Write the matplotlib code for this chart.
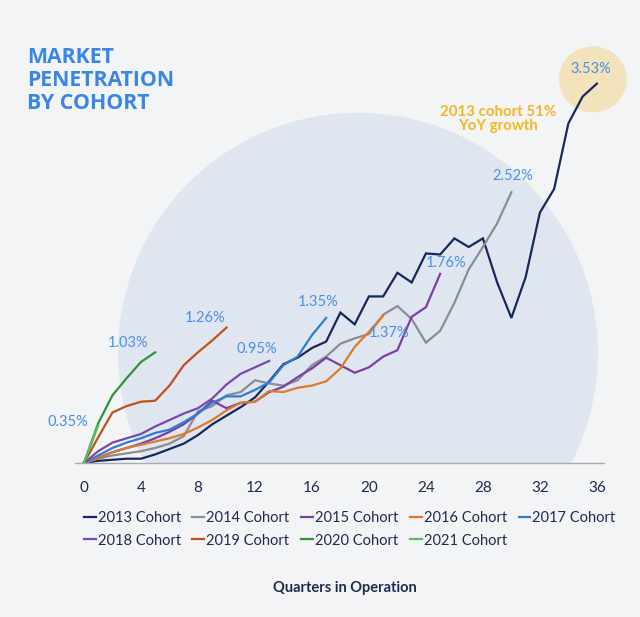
import matplotlib
matplotlib.use("Agg")
import matplotlib.pyplot as plt
from matplotlib.patches import Ellipse

# market penetration (%) by quarter in operation, one list per cohort
c2013 = [0, 0.02, 0.03, 0.04, 0.04, 0.08, 0.13, 0.18, 0.26, 0.36, 0.44, 0.52, 0.61,
         0.76, 0.92, 0.98, 1.07, 1.13, 1.40, 1.29, 1.55, 1.55, 1.77, 1.68, 1.95,
         1.94, 2.09, 2.01, 2.09, 1.68, 1.35, 1.73, 2.33, 2.55, 3.16, 3.41, 3.53]
c2014 = [0, 0.04, 0.07, 0.09, 0.11, 0.14, 0.18, 0.25, 0.48, 0.53, 0.63, 0.66, 0.77,
         0.74, 0.72, 0.77, 0.91, 0.99, 1.11, 1.16, 1.20, 1.38, 1.46, 1.34, 1.12,
         1.23, 1.49, 1.80, 2.01, 2.23, 2.52]
c2015 = [0, 0.05, 0.10, 0.14, 0.18, 0.23, 0.29, 0.36, 0.46, 0.58, 0.51, 0.56, 0.57,
         0.66, 0.71, 0.80, 0.88, 0.98, 0.91, 0.84, 0.89, 0.99, 1.05, 1.36, 1.45, 1.76]
c2016 = [0, 0.05, 0.10, 0.14, 0.17, 0.20, 0.23, 0.27, 0.33, 0.40, 0.49, 0.56, 0.57,
         0.67, 0.66, 0.70, 0.72, 0.76, 0.88, 1.08, 1.22, 1.37]
c2017 = [0, 0.07, 0.14, 0.19, 0.23, 0.28, 0.31, 0.38, 0.46, 0.56, 0.62, 0.62, 0.68,
         0.75, 0.91, 0.99, 1.19, 1.35]
c2018 = [0, 0.11, 0.19, 0.23, 0.27, 0.34, 0.40, 0.46, 0.51, 0.60, 0.73, 0.83, 0.89, 0.95]
c2019 = [0, 0.24, 0.47, 0.53, 0.57, 0.58, 0.72, 0.91, 1.03, 1.14, 1.26]
c2020 = [0, 0.37, 0.63, 0.79, 0.94, 1.03]
c2021 = [0, 0.35]

names = ["2013 Cohort", "2014 Cohort", "2015 Cohort", "2016 Cohort", "2017 Cohort",
         "2018 Cohort", "2019 Cohort", "2020 Cohort", "2021 Cohort"]
series = [c2013, c2014, c2015, c2016, c2017, c2018, c2019, c2020, c2021]
colors = ["#16285e", "#8a8d91", "#7a3fa8", "#e07a28", "#2f7dd1",
          "#7b46b3", "#c1501e", "#2d9438", "#5dbb5f"]
end_labels = ["3.53%", "2.52%", "1.76%", "1.37%", "1.35%", "0.95%", "1.26%", "1.03%", "0.35%"]
# label offsets from each line's last point, pixels
label_off = [(-6, 15), (1, 16), (6, 11), (6, -17), (-8, 16), (-12, 12), (-21, 10), (-27, 9), (-30, 3)]

xticks = list(range(0, 37, 4))

bg = "#f3f4f5"
navy_txt = "#1e2b4d"
plt.rcParams["font.family"] = ["Lato", "DejaVu Sans"]

fig = plt.figure(figsize=(6.4, 6.17), dpi=100, facecolor=bg)
ax = fig.add_axes([75 / 640, 154 / 617, 529 / 640, 403 / 617])
ax.set_facecolor("none")
ax.set_xlim(-0.63, 36.5)
ax.set_ylim(0, 3.75)

# big pale circle behind the lines (clipped at the axis)
ax.add_patch(Ellipse((19.23, 1.024), 2 * 240 / 14.25, 2 * 240 / 107.4,
                     facecolor="#dfe6f0", edgecolor="none", zorder=0))
# highlight bubble at the 2013 end point
ax.add_patch(Ellipse((35.72, 3.57), 2 * 34 / 14.25, 2 * 33 / 107.4,
                     facecolor="#f3e3bd", edgecolor="none", zorder=0, clip_on=False))

for vals, name, col in zip(series, names, colors):
    ax.plot(range(len(vals)), vals, color=col, lw=1.6, label=name, solid_joinstyle="miter")

for vals, txt, off in zip(series, end_labels, label_off):
    ax.annotate(txt, xy=(len(vals) - 1, vals[-1]), xytext=off, textcoords="offset pixels",
                ha="center", va="center", color="#4a8fe3", fontsize=10.5, annotation_clip=False)

ax.text(29.05, 3.20, "2013 cohort 51%\nYoY growth", ha="center", va="center",
        color="#f4b621", fontsize=10.8, fontweight="bold", linespacing=1.0)

for s in ["top", "left", "right"]:
    ax.spines[s].set_visible(False)
ax.spines["bottom"].set_color("#a6a9ad")
ax.spines["bottom"].set_linewidth(1.0)
ax.set_yticks([])
ax.set_xticks(xticks)
ax.tick_params(axis="x", length=0, pad=13, labelsize=11, labelcolor=navy_txt)

# legend fills column by column, so reorder to read row by row
handles, labels = ax.get_legend_handles_labels()
order = [0, 5, 1, 6, 2, 7, 3, 8, 4]
leg = ax.legend([handles[i] for i in order], [labels[i] for i in order],
                loc="upper left", bbox_to_anchor=(78 / 640, 112 / 617),
                bbox_transform=fig.transFigure, ncol=5, frameon=False, fontsize=10.5,
                handlelength=0.8, handletextpad=0.15, columnspacing=0.8,
                labelspacing=0.6, borderaxespad=0)
for t in leg.get_texts():
    t.set_color(navy_txt)

fig.text(345 / 640, 1 - 588 / 617, "Quarters in Operation", ha="center", va="center",
         color=navy_txt, fontsize=10.5, fontweight="bold")

fig.text(27 / 640, 1 - 47 / 617, "MARKET\nPENETRATION\nBY COHORT", ha="left", va="top",
         color="#3a86e8", fontsize=15.3, fontweight="bold", family=["Open Sans", "DejaVu Sans"],
         linespacing=1.14)

fig.savefig("out.png", dpi=100, facecolor=bg)
